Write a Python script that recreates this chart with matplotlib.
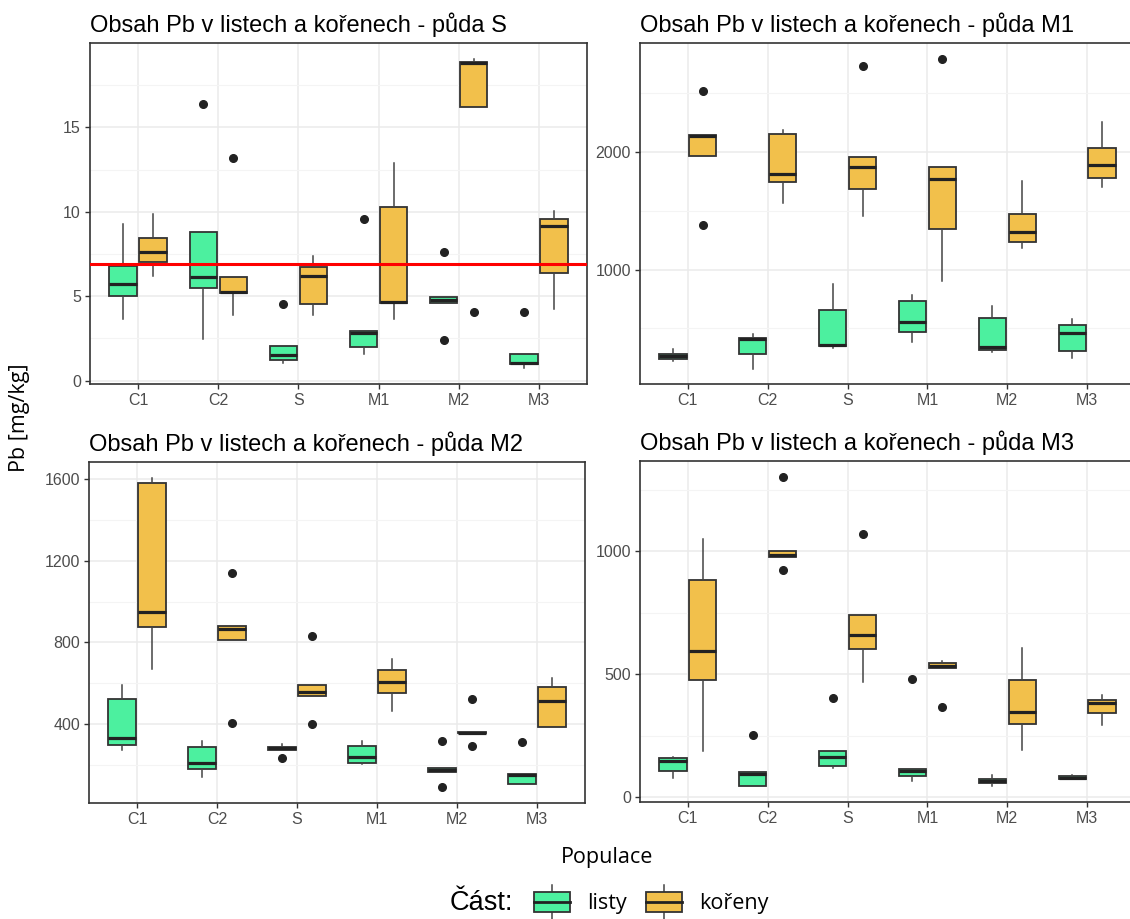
import matplotlib
matplotlib.use("Agg")
import matplotlib.pyplot as plt
from matplotlib.patches import Rectangle
from matplotlib.lines import Line2D
from matplotlib.legend_handler import HandlerBase
import numpy as np

# populace on the x axis
categories = ['C1', 'C2', 'S', 'M1', 'M2', 'M3']

# box stats per population: (whisker low, q1, median, q3, whisker high)
s_listy = [(3.64, 5.03, 5.7, 6.8, 9.3), (2.44, 5.5, 6.12, 8.78, 8.78), (1.03, 1.23, 1.53, 2.07, 2.07),
           (1.55, 1.99, 2.82, 2.94, 2.94), (4.61, 4.61, 4.77, 4.93, 4.93), (0.74, 0.99, 1.05, 1.59, 1.59)]
s_listy_out = [[], [16.4], [4.51], [9.6], [7.6, 2.38], [4.09]]
s_koreny = [(6.2, 7.05, 7.61, 8.46, 9.87), (3.91, 5.17, 5.27, 6.16, 6.16), (3.91, 4.53, 6.2, 6.72, 7.39),
            (3.64, 4.59, 4.63, 10.3, 12.9), (16.2, 16.2, 18.8, 18.87, 19.03), (4.23, 6.36, 9.14, 9.6, 10.03)]
s_koreny_out = [[], [13.2], [], [], [4.09], []]
s_limit = 6.9

m1_listy = [(220, 234, 263, 280, 320), (157, 280, 411, 420, 449), (334, 349, 357, 657, 877),
            (386, 466, 557, 729, 780), (294, 314, 343, 586, 686), (243, 306, 457, 529, 577)]
m1_listy_out = [[], [], [], [], [], []]
m1_koreny = [(1971, 1971, 2134, 2143, 2143), (1566, 1743, 1811, 2157, 2191), (1457, 1683, 1871, 1957, 1957),
             (900, 1343, 1771, 1877, 1877), (1186, 1237, 1323, 1471, 1757), (1706, 1780, 1894, 2037, 2257)]
m1_koreny_out = [[2523, 1377], [], [2734], [2794], [], []]

m2_listy = [(273, 300, 330, 522, 591), (142, 178, 211, 286, 318), (273, 273, 281, 289, 302),
            (204, 212, 237, 292, 318), (165, 165, 175, 183, 183), (109, 109, 152, 157, 157)]
m2_listy_out = [[], [], [232], [], [318, 90], [313]]
m2_koreny = [(669, 875, 947, 1579, 1607), (813, 813, 864, 882, 882), (537, 537, 557, 591, 591),
             (465, 550, 607, 664, 718), (355, 355, 359, 362, 362), (387, 387, 513, 583, 627)]
m2_koreny_out = [[], [1138, 407], [833, 400], [], [522, 292], []]

m3_listy = [(78, 107, 146, 159, 162), (44, 44, 95, 102, 102), (118, 125, 163, 186, 186),
            (67, 84, 105, 114, 114), (46, 56, 64, 73, 91), (73, 73, 78, 84, 90)]
m3_listy_out = [[], [254], [401], [479], [], []]
m3_koreny = [(186, 476, 595, 884, 1050), (976, 976, 986, 1000, 1000), (468, 601, 659, 740, 740),
             (524, 524, 533, 547, 554), (190, 298, 347, 475, 608), (293, 343, 384, 395, 414)]
m3_koreny_out = [[], [1302, 924], [1071], [367], [], []]

green = '#4cf09f'
yellow = '#f2c04b'
edge = '#333333'

def stats(rows, outs):
    res = []
    for (lo, q1, med, q3, hi), fl in zip(rows, outs):
        res.append(dict(whislo=lo, q1=q1, med=med, q3=q3, whishi=hi, fliers=fl))
    return res

def draw_boxes(ax, rows, outs, pos, color):
    ax.bxp(stats(rows, outs), positions=pos, widths=0.34, patch_artist=True,
           showcaps=False, manage_ticks=False,
           boxprops=dict(facecolor=color, edgecolor=edge, linewidth=1.3),
           medianprops=dict(color='#222222', linewidth=2.3),
           whiskerprops=dict(color='#444444', linewidth=1.1),
           flierprops=dict(marker='o', markerfacecolor='#222222', markeredgecolor='#222222',
                           markersize=5.5, linestyle='none'))

fig = plt.figure(figsize=(11.3, 9.19), dpi=100)
W, H = 1130, 919

def axes_px(x0, x1, y0, y1):
    return fig.add_axes([x0 / W, 1 - y1 / H, (x1 - x0) / W, (y1 - y0) / H])

panels = [
    ('S', axes_px(90, 587, 43, 384), s_listy, s_listy_out, s_koreny, s_koreny_out,
     (-0.2, 20.0), [0, 5, 10, 15], [2.5, 7.5, 12.5, 17.5]),
    ('M1', axes_px(640, 1135, 43, 384), m1_listy, m1_listy_out, m1_koreny, m1_koreny_out,
     (25, 2930), [1000, 2000], [500, 1500, 2500]),
    ('M2', axes_px(89, 585, 462, 803), m2_listy, m2_listy_out, m2_koreny, m2_koreny_out,
     (14, 1683), [400, 800, 1200, 1600], [200, 600, 1000, 1400]),
    ('M3', axes_px(640, 1135, 461, 802), m3_listy, m3_listy_out, m3_koreny, m3_koreny_out,
     (-20, 1367), [0, 500, 1000], [250, 750, 1250]),
]

x = np.arange(1, len(categories) + 1)
for soil, ax, li, li_out, ko, ko_out, ylim, yt, ymin in panels:
    draw_boxes(ax, li, li_out, x - 0.1875, green)
    draw_boxes(ax, ko, ko_out, x + 0.1875, yellow)
    ax.set_xlim(0.4, 6.6)
    ax.set_ylim(*ylim)
    ax.set_xticks(x)
    ax.set_xticklabels(categories)
    ax.set_yticks(yt)
    ax.set_yticks(ymin, minor=True)
    ax.set_axisbelow(True)
    ax.grid(which='major', color='#ebebeb', linewidth=1.1)
    ax.grid(which='minor', axis='y', color='#f4f4f4', linewidth=0.8)
    ax.tick_params(which='major', length=3.5, width=1, color=edge, labelcolor='#4d4d4d',
                   labelsize=11.5, pad=3)
    ax.tick_params(which='minor', length=0)
    for sp in ax.spines.values():
        sp.set_color(edge)
        sp.set_linewidth(1.2)
    ax.set_title('Obsah Pb v listech a kořenech - půda ' + soil, loc='left',
                 fontsize=17, pad=8, family='Liberation Sans')
    for lab in ax.get_xticklabels() + ax.get_yticklabels():
        lab.set_family('Liberation Sans')
    if soil == 'S':
        ax.axhline(s_limit, color='red', linewidth=2.2, zorder=10)

fig.text(20 / W, 1 - 418 / H, 'Pb [mg/kg]', rotation=90, ha='center', va='center',
         fontsize=15.5, family='Open Sans')
fig.text(607 / W, 1 - 857 / H, 'Populace', ha='center', va='center',
         fontsize=15.5, family='Open Sans')
fig.text(450 / W, 1 - 903 / H, 'Část:', ha='left', va='center', fontsize=19.5,
         family='Liberation Sans')


class BoxKey(HandlerBase):
    def create_artists(self, legend, orig_handle, xdescent, ydescent, width, height, fontsize, trans):
        x0, y0 = -xdescent, -ydescent
        ext = height * 0.3
        xm = x0 + width / 2
        wl = Line2D([xm, xm], [y0 - ext, y0 + height + ext], color='#444444', lw=1.1, transform=trans)
        box = Rectangle((x0, y0), width, height, facecolor=orig_handle.get_facecolor(),
                        edgecolor=edge, lw=1.3, transform=trans)
        med = Line2D([x0, x0 + width], [y0 + height / 2] * 2, color='#222222', lw=2.0, transform=trans)
        return [wl, box, med]


handles = [Rectangle((0, 0), 1, 1, facecolor=green), Rectangle((0, 0), 1, 1, facecolor=yellow)]
fig.legend(handles, ['listy', 'kořeny'], handler_map={Rectangle: BoxKey()},
           loc='center', bbox_to_anchor=(651 / W, 1 - 903 / H), ncol=2, frameon=False,
           prop=dict(family='Open Sans', size=15.5), handlelength=1.67, handleheight=1.1,
           handletextpad=0.8, columnspacing=0.9, borderpad=0, borderaxespad=0)

plt.savefig('out.png', dpi=100)
